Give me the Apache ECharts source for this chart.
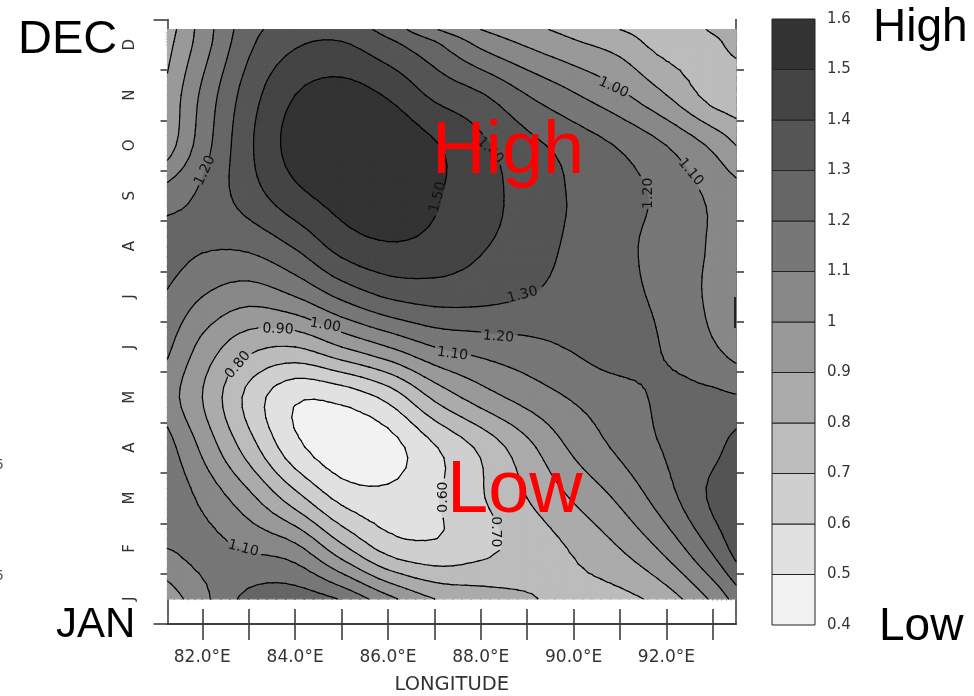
<!DOCTYPE html>
<html>
<head>
<meta charset="utf-8">
<title>Longitude - month contour</title>
<style>
  html, body { margin: 0; padding: 0; background: #fff; }
  #main { width: 974px; height: 696px; }
</style>
<script src="https://cdn.jsdelivr.net/npm/echarts@6/dist/echarts.min.js"></script>
</head>
<body>
<div id="main"></div>
<script>
// grid columns, degrees east
var longitudes = [81.25, 82, 83, 84, 85, 86, 87, 88, 89, 90, 91, 92, 93, 93.5]
// month position of each row, bottom to top (0.5 = centre of Jan)
var rowPositions = [0.5, 1.5, 2.5, 3.5, 4.5, 5.5, 6.5, 7.5, 8.5, 9.5, 10.5, 11.5, 11.8]

// values, one list per row
var janValues = [0.94, 1.07, 1.23, 1.26, 1.19, 1.03, 0.90, 0.85, 0.81, 0.77, 0.77, 0.85, 1.02, 1.14]
var febValues = [1.10, 1.13, 1.09, 1.03, 0.83, 0.66, 0.62, 0.67, 0.74, 0.81, 0.90, 1.03, 1.22, 1.34]
var marValues = [1.17, 1.08, 0.93, 0.74, 0.57, 0.53, 0.59, 0.69, 0.80, 0.91, 1.02, 1.16, 1.32, 1.37]
var aprValues = [1.14, 0.98, 0.75, 0.53, 0.44, 0.46, 0.59, 0.72, 0.87, 1.02, 1.12, 1.21, 1.27, 1.34]
var mayValues = [1.05, 0.90, 0.67, 0.515, 0.53, 0.63, 0.82, 0.95, 1.04, 1.11, 1.16, 1.22, 1.22, 1.21]
var junValues = [1.12, 0.97, 0.83, 0.80, 0.90, 1.00, 1.10, 1.14, 1.17, 1.21, 1.25, 1.19, 1.11, 1.06]
var julValues = [1.19, 1.10, 1.04, 1.10, 1.22, 1.31, 1.34, 1.33, 1.30, 1.26, 1.23, 1.17, 1.08, 1.05]
var augValues = [1.24, 1.21, 1.22, 1.31, 1.44, 1.49, 1.47, 1.41, 1.35, 1.28, 1.23, 1.15, 1.09, 1.05]
var sepValues = [1.15, 1.22, 1.35, 1.47, 1.54, 1.56, 1.51, 1.44, 1.36, 1.29, 1.24, 1.17, 1.08, 1.04]
var octValues = [0.95, 1.15, 1.38, 1.54, 1.59, 1.58, 1.51, 1.42, 1.33, 1.26, 1.19, 1.10, 0.98, 0.90]
var novValues = [0.92, 1.12, 1.35, 1.50, 1.54, 1.49, 1.38, 1.31, 1.20, 1.11, 1.02, 0.90, 0.76, 0.74]
var decValues = [0.87, 1.05, 1.28, 1.39, 1.41, 1.33, 1.22, 1.08, 0.99, 0.92, 0.86, 0.76, 0.78, 0.83]
var topValues = [0.85, 1.04, 1.26, 1.35, 1.36, 1.26, 1.11, 1.00, 0.93, 0.866, 0.80, 0.75, 0.81, 0.85]

var months = ['J', 'F', 'M', 'A', 'M', 'J', 'J', 'A', 'S', 'O', 'N', 'D']
var levels = [0.4, 0.5, 0.6, 0.7, 0.8, 0.9, 1.0, 1.1, 1.2, 1.3, 1.4, 1.5, 1.6]
var levelLabels = ['0.4', '0.5', '0.6', '0.7', '0.8', '0.9', '1', '1.1', '1.2', '1.3', '1.4', '1.5', '1.6']
var bandColors = ['#f2f2f2', '#e1e1e1', '#cfcfcf', '#bcbcbc', '#ababab', '#999999', '#888888', '#777777', '#666666', '#555555', '#444444', '#333333']

var lonTicks = [82, 83, 84, 85, 86, 87, 88, 89, 90, 91, 92, 93]
var lonLabels = [82, 84, 86, 88, 90, 92]
var monthTicks = [1, 2, 3, 4, 5, 6, 7, 8, 9, 10, 11]

// [lon, month position, text, rotation in degrees]
var contourLabels = [
  [82.06, 9.0, '1.20', 65],
  [90.86, 10.65, '1.00', -25],
  [92.52, 8.97, '1.10', -50],
  [91.62, 8.55, '1.20', 90],
  [87.08, 8.47, '1.50', 75],
  [88.2, 9.4, '1.40', -45],
  [88.9, 6.53, '1.30', 15],
  [88.38, 5.7, '1.20', -5],
  [87.39, 5.36, '1.10', -8],
  [84.65, 5.93, '1.00', -10],
  [83.63, 5.85, '0.90', -3],
  [82.77, 5.14, '0.80', 50],
  [87.19, 2.52, '0.60', 90],
  [88.31, 1.83, '0.70', -90],
  [82.88, 1.5, '1.10', -15]
]

var rows = [janValues, febValues, marValues, aprValues, mayValues, junValues, julValues, augValues, sepValues, octValues, novValues, decValues, topValues]

// contour mesh: how many sub cells per grid cell
var SUB = 5

// cubic through the grid values, used only to draw rounded contours
function cubic(xs, ys, x) {
  var n = xs.length
  var i = 0
  while (i < n - 2 && x > xs[i + 1]) i++
  function slope(k) {
    if (k === 0) return (ys[1] - ys[0]) / (xs[1] - xs[0])
    if (k === n - 1) return (ys[n - 1] - ys[n - 2]) / (xs[n - 1] - xs[n - 2])
    return (ys[k + 1] - ys[k - 1]) / (xs[k + 1] - xs[k - 1])
  }
  var h = xs[i + 1] - xs[i]
  var t = (x - xs[i]) / h
  var t2 = t * t
  var t3 = t2 * t
  return (2 * t3 - 3 * t2 + 1) * ys[i] + (t3 - 2 * t2 + t) * h * slope(i) +
    (-2 * t3 + 3 * t2) * ys[i + 1] + (t3 - t2) * h * slope(i + 1)
}

function subdivide(xs) {
  var out = []
  for (var i = 0; i < xs.length - 1; i++) {
    for (var s = 0; s < SUB; s++) out.push(xs[i] + (xs[i + 1] - xs[i]) * s / SUB)
  }
  out.push(xs[xs.length - 1])
  return out
}

var meshLon = subdivide(longitudes)
var meshPos = subdivide(rowPositions)
// rows resampled along longitude, then along month
var alongLon = rows.map(function(row) {
  return meshLon.map(function(x) { return cubic(longitudes, row, x) })
})
var mesh = meshPos.map(function(p) {
  return meshLon.map(function(x, j) {
    // small offset so a value sitting exactly on a level still gives a line
    return cubic(rowPositions, alongLon.map(function(r) { return r[j] }), p) + 0.00013
  })
})

// cut a polygon by z >= v (keep = 1) or z <= v (keep = -1)
function clip(poly, v, keep) {
  var out = []
  for (var i = 0; i < poly.length; i++) {
    var a = poly[i]
    var b = poly[(i + 1) % poly.length]
    var ina = (a[2] - v) * keep >= 0
    var inb = (b[2] - v) * keep >= 0
    if (ina) out.push(a)
    if (ina !== inb) {
      var t = (v - a[2]) / (b[2] - a[2])
      out.push([a[0] + (b[0] - a[0]) * t, a[1] + (b[1] - a[1]) * t, v])
    }
  }
  return out
}

// a contour line stops where its own label sits
var PX_PER_LON = 46.4
var PX_PER_MONTH = 50.4
function underLabel(pt, v) {
  return contourLabels.some(function(l) {
    if (Math.abs(parseFloat(l[2]) - v) > 0.01) return false
    var dx = (pt[0] - l[0]) * PX_PER_LON
    var dy = -(pt[1] - l[1]) * PX_PER_MONTH
    var a = l[3] * Math.PI / 180
    var along = dx * Math.cos(a) - dy * Math.sin(a)
    var across = dx * Math.sin(a) + dy * Math.cos(a)
    return Math.abs(along) < 18 && Math.abs(across) < 10
  })
}

var triangles = []
for (var r = 0; r < meshPos.length - 1; r++) {
  for (var c = 0; c < meshLon.length - 1; c++) {
    var p1 = [meshLon[c], meshPos[r], mesh[r][c]]
    var p2 = [meshLon[c + 1], meshPos[r], mesh[r][c + 1]]
    var p3 = [meshLon[c + 1], meshPos[r + 1], mesh[r + 1][c + 1]]
    var p4 = [meshLon[c], meshPos[r + 1], mesh[r + 1][c]]
    triangles.push([p1, p2, p3], [p1, p3, p4])
  }
}

var fills = []
var segments = []
triangles.forEach(function(tri) {
  bandColors.forEach(function(color, b) {
    var poly = clip(clip(tri, levels[b], 1), levels[b + 1], -1)
    if (poly.length > 2) fills.push({ poly: poly, color: color })
  })
  levels.forEach(function(v) {
    var pts = []
    for (var i = 0; i < 3; i++) {
      var a = tri[i]
      var b = tri[(i + 1) % 3]
      if ((a[2] - v) * (b[2] - v) < 0) {
        var t = (v - a[2]) / (b[2] - a[2])
        pts.push([a[0] + (b[0] - a[0]) * t, a[1] + (b[1] - a[1]) * t])
      }
    }
    if (pts.length === 2) {
      var midPt = [(pts[0][0] + pts[1][0]) / 2, (pts[0][1] + pts[1][1]) / 2]
      if (!underLabel(midPt, v)) segments.push(pts)
    }
  })
})

var myChart = echarts.init(document.getElementById('main'), null, { renderer: 'canvas' })

var textGray = '#333'
var frameColor = '#333'
var tickStyle = { color: frameColor, width: 1.5 }

var option = {
  animation: false,
  backgroundColor: '#fff',
  grid: [
    { left: 167.5, top: 19.5, width: 568.5, height: 604.5, outerBoundsMode: 'none' },
    { left: 772, top: 19, width: 43, height: 606, outerBoundsMode: 'none' }
  ],
  xAxis: [
    {
      type: 'value', gridIndex: 0, position: 'bottom', min: 81.25, max: 93.5,
      splitLine: { show: false },
      axisLine: { show: true, lineStyle: { color: frameColor, width: 1.5 } },
      axisTick: { show: true, length: 16, lineStyle: tickStyle, customValues: lonTicks },
      axisLabel: {
        show: true, customValues: lonLabels, margin: 25, color: textGray,
        fontFamily: 'DejaVu Sans', fontSize: 17,
        formatter: function(v) { return v.toFixed(1) + '°E' }
      },
      name: 'LONGITUDE', nameLocation: 'middle', nameGap: 51,
      nameTextStyle: { color: textGray, fontFamily: 'DejaVu Sans', fontSize: 19.5 }
    },
    {
      type: 'value', gridIndex: 0, position: 'top', min: 81.25, max: 93.5,
      splitLine: { show: false },
      axisLine: { show: true, lineStyle: { color: frameColor, width: 1.5 } },
      axisTick: { show: true, length: 15, lineStyle: tickStyle, customValues: lonTicks },
      axisLabel: { show: false }
    },
    {
      type: 'category', gridIndex: 1, data: ['bar'], boundaryGap: true,
      axisLine: { show: false }, axisTick: { show: false }, axisLabel: { show: false }
    }
  ],
  yAxis: [
    {
      type: 'value', gridIndex: 0, position: 'left', min: 0, max: 12,
      splitLine: { show: false },
      axisLine: { show: true, lineStyle: { color: frameColor, width: 1.5 } },
      axisTick: { show: true, length: 7, lineStyle: tickStyle, customValues: monthTicks },
      axisLabel: { show: false }
    },
    {
      type: 'value', gridIndex: 0, position: 'right', min: 0, max: 12,
      splitLine: { show: false },
      axisLine: { show: true, lineStyle: { color: frameColor, width: 1.5 } },
      axisTick: { show: true, length: 8, lineStyle: tickStyle, customValues: monthTicks },
      axisLabel: { show: false }
    },
    {
      type: 'category', gridIndex: 0, position: 'left', data: months, boundaryGap: true,
      axisLine: { show: false }, axisTick: { show: false },
      axisLabel: {
        show: true, interval: 0, rotate: 90, margin: 30, color: textGray,
        fontFamily: 'DejaVu Sans', fontSize: 15
      }
    },
    {
      type: 'value', gridIndex: 0, position: 'left', min: 0, max: 12,
      splitLine: { show: false },
      axisLine: { show: false },
      axisTick: { show: true, length: 14, lineStyle: tickStyle, customValues: [0, 12] },
      axisLabel: { show: false }
    },
    {
      type: 'value', gridIndex: 1, position: 'right', min: 0.4, max: 1.6,
      splitLine: { show: false },
      axisLine: { show: false }, axisTick: { show: false },
      axisLabel: {
        show: true, customValues: levels, margin: 12, color: textGray,
        fontFamily: 'DejaVu Sans', fontSize: 15,
        formatter: function(v) { return levelLabels[levels.indexOf(v)] }
      }
    }
  ],
  series: [
    {
      type: 'custom', xAxisIndex: 0, yAxisIndex: 0, silent: true, clip: true, z: 2,
      data: fills.map(function(f, i) { return [i] }),
      renderItem: function(params, api) {
        var f = fills[params.dataIndex]
        return {
          type: 'polygon',
          shape: { points: f.poly.map(function(p) { return api.coord([p[0], p[1]]) }) },
          style: { fill: f.color, stroke: f.color, lineWidth: 1.2 }
        }
      }
    },
    {
      type: 'custom', xAxisIndex: 0, yAxisIndex: 0, silent: true, clip: true, z: 3,
      data: segments.map(function(s, i) { return [i] }),
      renderItem: function(params, api) {
        var s = segments[params.dataIndex]
        var a = api.coord(s[0])
        var b = api.coord(s[1])
        return {
          type: 'line',
          shape: { x1: a[0], y1: a[1], x2: b[0], y2: b[1] },
          style: { stroke: '#000', lineWidth: 1.2, lineCap: 'round' }
        }
      }
    },
    {
      type: 'custom', xAxisIndex: 0, yAxisIndex: 0, silent: true, z: 4,
      data: contourLabels.map(function(l) { return [l[0], l[1]] }),
      renderItem: function(params, api) {
        var l = contourLabels[params.dataIndex]
        var pt = api.coord([l[0], l[1]])
        return {
          type: 'text', x: pt[0], y: pt[1], rotation: l[3] * Math.PI / 180,
          style: {
            text: l[2], fill: '#111', font: '14px "DejaVu Sans"',
            align: 'center', verticalAlign: 'middle'
          }
        }
      }
    },
    {
      type: 'custom', xAxisIndex: 2, yAxisIndex: 4, silent: true, z: 2,
      data: bandColors.map(function(c, i) { return [0, levels[i], levels[i + 1]] }),
      renderItem: function(params, api) {
        var lo = api.coord([0, api.value(1)])
        var hi = api.coord([0, api.value(2)])
        var w = api.size([1, 0])[0]
        return {
          type: 'rect',
          shape: { x: lo[0] - w / 2, y: hi[1], width: w, height: lo[1] - hi[1] },
          style: { fill: bandColors[params.dataIndex], stroke: '#222', lineWidth: 1 }
        }
      }
    }
  ],
  graphic: [
    { type: 'text', x: 432, y: 116, z: 20, style: { text: 'High', fill: '#ff0000', font: '74px "Liberation Sans"' } },
    { type: 'text', x: 447, y: 455, z: 20, style: { text: 'Low', fill: '#ff0000', font: '74px "Liberation Sans"' } },
    { type: 'text', x: 18, y: 17, z: 20, style: { text: 'DEC', fill: '#000', font: '47px "Liberation Sans"' } },
    { type: 'text', x: 56, y: 604, z: 20, style: { text: 'JAN', fill: '#000', font: '42px "Liberation Sans"' } },
    { type: 'text', x: 873, y: 5, z: 20, style: { text: 'High', fill: '#000', font: '46px "Liberation Sans"' } },
    { type: 'text', x: 879, y: 604, z: 20, style: { text: 'Low', fill: '#000', font: '46px "Liberation Sans"' } },
    { type: 'text', x: -5, y: 458, z: 20, style: { text: '5', fill: '#555', font: '14px "DejaVu Sans"' } },
    { type: 'text', x: -5, y: 569, z: 20, style: { text: '5', fill: '#555', font: '14px "DejaVu Sans"' } },
    { type: 'rect', z: 20, shape: { x: 734, y: 297, width: 2, height: 31 }, style: { fill: '#222' } }
  ]
}
myChart.setOption(option)
</script>
</body>
</html>
